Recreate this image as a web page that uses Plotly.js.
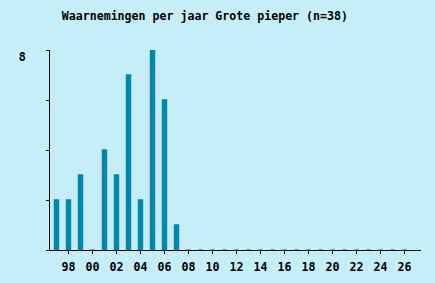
<!DOCTYPE html>
<html><head><meta charset="utf-8">
<script src="https://cdn.plot.ly/plotly-3.0.1.min.js"></script>
<style>html,body{margin:0;padding:0;background:#C6EEF8;}</style>
</head><body>
<div id="chart" style="width:435px;height:283px;"></div>
<script>
const years = [1997,1998,1999,2000,2001,2002,2003,2004,2005,2006,2007,2008,2009,2010,2011,2012,2013,2014,2015,2016,2017,2018,2019,2020,2021,2022,2023,2024,2025,2026];
const counts = [2,2,3,0,4,3,7,2,8,6,1,0,0,0,0,0,0,0,0,0,0,0,0,0,0,0,0,0,0,0];
const xTickVals = [1998,2000,2002,2004,2006,2008,2010,2012,2014,2016,2018,2020,2022,2024,2026];
const xTickText = ["98","00","02","04","06","08","10","12","14","16","18","20","22","24","26"];
const yTickVals = [0,2,4,6,8];
const yTickText = ["","","","","8"];

const bold = a => a.map(t => t ? "<b>" + t + "</b>" : "");
const font = {family: "DejaVu Sans Mono", size: 11.6, color: "#000"};
Plotly.newPlot("chart", [{
  type: "bar", x: years, y: counts, width: 0.33,
  marker: {color: "#0088AA", line: {color: "#0088AA", width: 1.5}},
  hoverinfo: "none"
}], {
  width: 435, height: 283,
  margin: {l: 50, r: 14, t: 50, b: 33},
  paper_bgcolor: "#C6EEF8", plot_bgcolor: "#C6EEF8",
  showlegend: false,
  title: {text: "<b>Waarnemingen per jaar Grote pieper (n=38)</b>", font: font,
    xref: "container", x: 0.471, xanchor: "center", yref: "container", y: 0.943, yanchor: "middle"},
  xaxis: {range: [1996.46, 2027.375], tickvals: xTickVals, ticktext: bold(xTickText),
    ticks: "outside", ticklen: 3, tickcolor: "#000", showgrid: false, zeroline: false,
    showline: true, linecolor: "#000", linewidth: 1, tickfont: font, fixedrange: true,
    ticklabelstandoff: 3},
  yaxis: {range: [0, 8], tickvals: yTickVals, ticktext: bold(yTickText),
    ticks: "outside", ticklen: 3, tickcolor: "#000", showgrid: false, zeroline: false,
    showline: true, linecolor: "#000", linewidth: 1, tickfont: font,
    ticklabelshift: 7, ticklabelstandoff: 18, fixedrange: true}
}, {displayModeBar: false, staticPlot: true});
</script>
</body></html>
